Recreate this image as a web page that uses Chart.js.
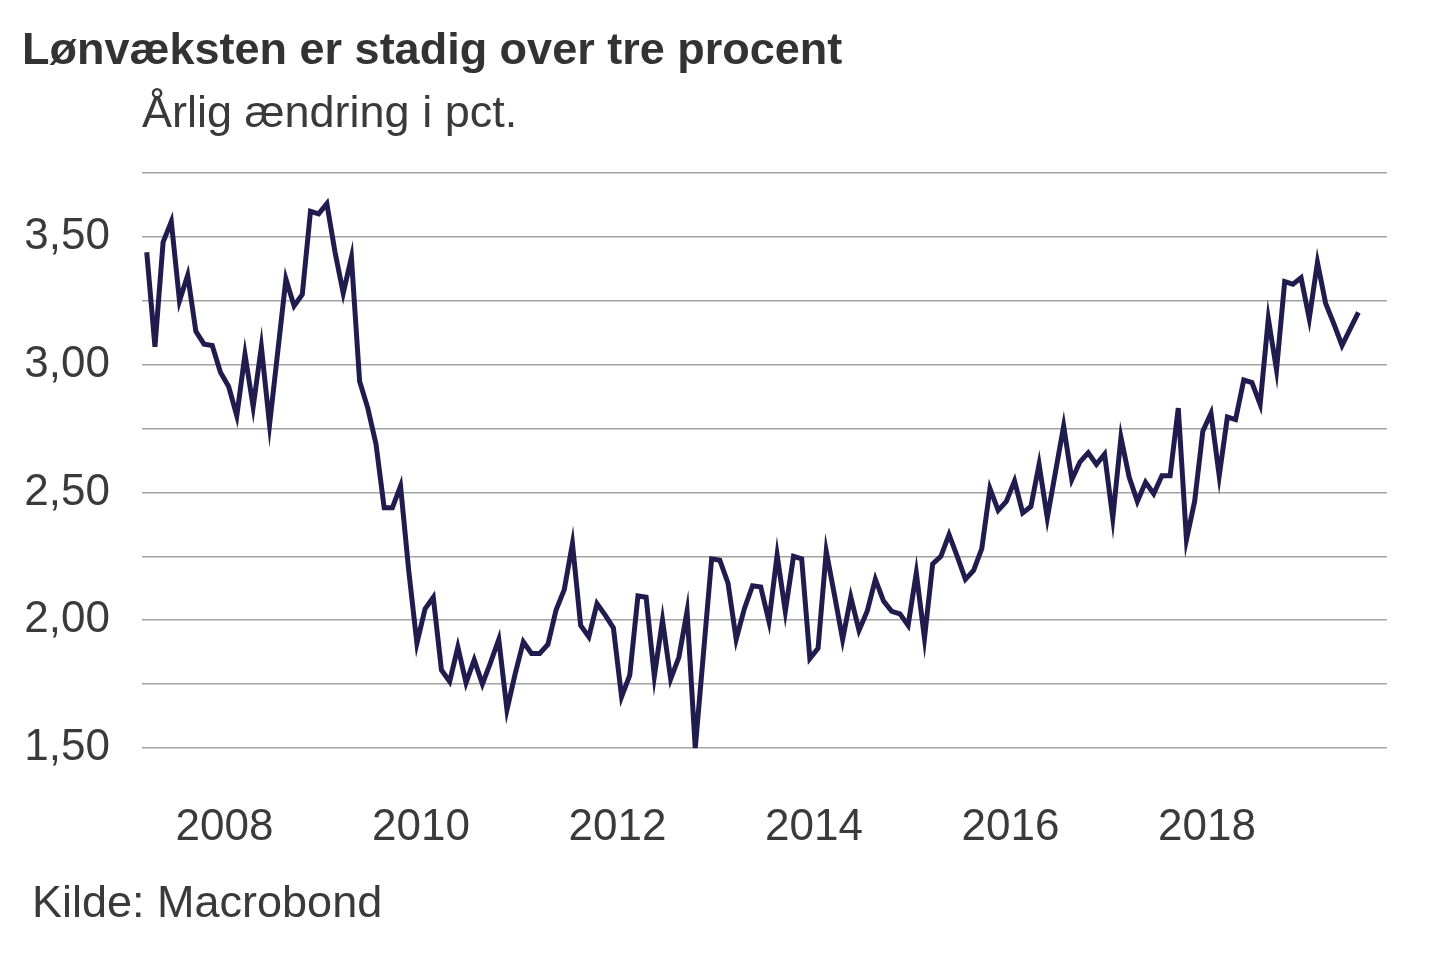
<!DOCTYPE html>
<html lang="da">
<head>
  <meta charset="UTF-8">
  <title>Lønvæksten er stadig over tre procent</title>
  <script src="https://cdn.jsdelivr.net/npm/chart.js"></script>
  <style>
    body { margin: 0; background: #fff; font-family: "Liberation Sans", Arial, sans-serif; }
    .wrap { position: relative; width: 1440px; height: 960px; }
    .txt { position: absolute; white-space: nowrap; font-size: 45px; line-height: 45px; color: #3a3a3a; }
    #title { left: 22px; top: 26px; font-weight: bold; color: #333; }
    #subtitle { left: 142px; top: 89px; }
    #source { left: 32px; top: 879px; }
    canvas { position: absolute; left: 0; top: 0; }
  </style>
</head>
<body>
  <div class="wrap">
    <canvas id="myChart" width="1440" height="960"></canvas>
    <div class="txt" id="title">Lønvæksten er stadig over tre procent</div>
    <div class="txt" id="subtitle">Årlig ændring i pct.</div>
    <div class="txt" id="source">Kilde: Macrobond</div>
  </div>

  <script>
    // månedlige observationer, marts 2007 - juli 2019
    const startYear = 2007
    const startMonth = 3
    const wageGrowth = [
      3.44, 3.07, 3.48, 3.56, 3.25, 3.35, 3.13, 3.08, 3.075, 2.97,
      2.915, 2.80, 3.04, 2.835, 3.07, 2.765, 3.05, 3.335, 3.23, 3.275, 3.60, 3.59,
      3.63, 3.44, 3.28, 3.42, 2.935, 2.83, 2.69, 2.44, 2.44, 2.525, 2.195, 1.91,
      2.045, 2.09, 1.805, 1.76, 1.895, 1.755, 1.845, 1.75, 1.835, 1.925, 1.65, 1.79,
      1.915, 1.87, 1.87, 1.905, 2.04, 2.12, 2.30, 1.98, 1.935, 2.065, 2.02, 1.97,
      1.70, 1.785, 2.095, 2.09, 1.78, 2.00, 1.77, 1.855, 2.035, 1.50, 1.87, 2.24,
      2.235, 2.145, 1.925, 2.045, 2.135, 2.13, 1.995, 2.255, 2.035, 2.25, 2.24, 1.85,
      1.89, 2.27, 2.10, 1.925, 2.09, 1.96, 2.035, 2.16, 2.075, 2.035, 2.025, 1.98,
      2.185, 1.93, 2.22, 2.25, 2.335, 2.25, 2.16, 2.195, 2.28, 2.515, 2.43, 2.465,
      2.545, 2.42, 2.445, 2.61, 2.40, 2.58, 2.76, 2.55, 2.62, 2.655, 2.61, 2.65,
      2.40, 2.715, 2.56, 2.465, 2.54, 2.495, 2.565, 2.565, 2.83, 2.315, 2.465, 2.74,
      2.81, 2.565, 2.795, 2.785, 2.94, 2.93, 2.845, 3.18, 2.98, 3.325, 3.315, 3.34,
      3.18, 3.40, 3.24, 3.16, 3.075, 3.14, 3.205
    ]
    const yearTicks = [2008, 2010, 2012, 2014, 2016, 2018]
    const yMin = 1.5
    const yMax = 3.75
    const yStep = 0.25

    // midt i måneden
    const points = wageGrowth.map((v, i) => ({
      x: startYear + (startMonth - 1 + i + 0.5) / 12,
      y: v
    }))

    const ctx = document.getElementById('myChart').getContext('2d')
    new Chart(ctx, {
      type: 'line',
      data: {
        datasets: [{
          data: points,
          borderColor: '#201c4e',
          borderWidth: 5,
          pointRadius: 0,
          tension: 0,
          fill: false,
          clip: false
        }]
      },
      options: {
        responsive: false,
        animation: false,
        layout: { padding: { top: 173, right: 53, left: 0, bottom: 0 } },
        plugins: { legend: { display: false }, tooltip: { enabled: false } },
        scales: {
          x: {
            type: 'linear',
            min: 2007.16,
            max: 2019.833,
            grid: { display: false },
            border: { display: false },
            afterBuildTicks: (scale) => { scale.ticks = yearTicks.map(v => ({ value: v })) },
            afterFit: (scale) => { scale.height = 212; scale.paddingLeft = 0; scale.paddingRight = 0 },
            ticks: {
              autoSkip: false,
              maxRotation: 0,
              padding: 45,
              color: '#3a3a3a',
              font: { family: 'Liberation Sans', size: 44 },
              callback: (v) => String(v)
            }
          },
          y: {
            min: yMin,
            max: yMax,
            grid: { color: '#a3a3a3', lineWidth: 1.5, drawTicks: false },
            border: { display: false },
            afterFit: (scale) => { scale.width = 142; scale.paddingTop = 0; scale.paddingBottom = 0 },
            ticks: {
              stepSize: yStep,
              padding: 32,
              color: '#3a3a3a',
              font: { family: 'Liberation Sans', size: 44 },
              callback: (v) => (Math.abs(v * 2 - Math.round(v * 2)) < 1e-6 ? v.toFixed(2).replace('.', ',') : '')
            }
          }
        }
      }
    })
  </script>
</body>
</html>
